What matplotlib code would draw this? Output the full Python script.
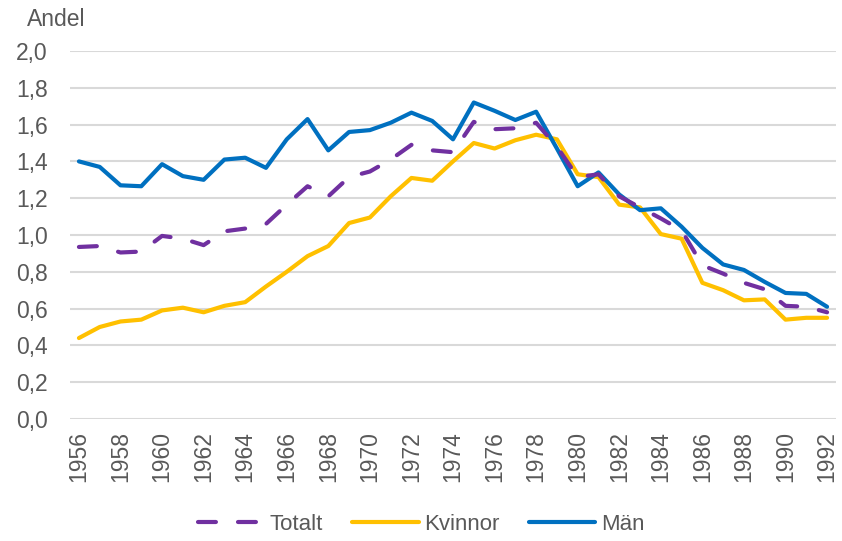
import matplotlib.pyplot as plt
from matplotlib.ticker import FuncFormatter

plt.rcParams["font.family"] = ["Liberation Sans", "DejaVu Sans"]

years = list(range(1956, 1993))

totalt = [0.935, 0.94, 0.905, 0.91, 0.995, 0.98, 0.945, 1.02, 1.035, 1.06,
          1.165, 1.265, 1.21, 1.315, 1.345, 1.41, 1.49, 1.46, 1.45, 1.615,
          1.575, 1.58, 1.61, 1.48, 1.315, 1.33, 1.21, 1.15, 1.09, 1.025,
          0.835, 0.79, 0.74, 0.705, 0.615, 0.61, 0.58]
kvinnor = [0.44, 0.50, 0.53, 0.54, 0.59, 0.605, 0.58, 0.615, 0.635, 0.72,
           0.80, 0.885, 0.94, 1.065, 1.095, 1.21, 1.31, 1.295, 1.40, 1.50,
           1.47, 1.515, 1.545, 1.52, 1.33, 1.315, 1.165, 1.15, 1.005, 0.98,
           0.74, 0.70, 0.645, 0.65, 0.54, 0.55, 0.55]
man = [1.40, 1.37, 1.27, 1.265, 1.385, 1.32, 1.30, 1.41, 1.42, 1.365,
       1.52, 1.63, 1.46, 1.56, 1.57, 1.61, 1.665, 1.62, 1.52, 1.72,
       1.675, 1.625, 1.67, 1.47, 1.265, 1.34, 1.22, 1.135, 1.145, 1.045,
       0.93, 0.84, 0.81, 0.745, 0.685, 0.68, 0.61]

grey = "#595959"

fig = plt.figure(figsize=(8.42, 5.41), dpi=100)
ax = fig.add_axes([70 / 842, 1 - 419 / 541, 766 / 842, 368 / 541])

ax.plot(years, totalt, color="#7030A0", lw=3, dashes=(4.3, 5.3),
        solid_capstyle="round", dash_capstyle="round", label="Totalt", zorder=3)
ax.plot(years, kvinnor, color="#FFC000", lw=3, solid_capstyle="round",
        label="Kvinnor", zorder=2)
ax.plot(years, man, color="#0070C0", lw=3, solid_capstyle="round",
        label="Män", zorder=2)

ax.set_xlim(1955.57, 1992.43)
ax.set_ylim(0, 2.0)
ax.set_yticks([i / 10 for i in range(0, 21, 2)])
ax.yaxis.set_major_formatter(FuncFormatter(lambda v, p: f"{v:.1f}".replace(".", ",")))
ax.set_xticks(years[::2])
ax.tick_params(axis="x", labelrotation=90, length=0, labelsize=16.5, colors=grey, pad=9)
ax.tick_params(axis="y", length=0, labelsize=16.5, colors=grey, pad=16)
ax.grid(axis="y", color="#d9d9d9", lw=1.5)
ax.set_axisbelow(True)
for s in ax.spines.values():
    s.set_visible(False)

fig.text(27 / 842, 1 - 20 / 541, "Andel", fontsize=16.5, color=grey, va="center")

leg = fig.legend(loc="center", bbox_to_anchor=(0.5, 1 - 524 / 541), ncol=3,
                 frameon=False, fontsize=16, handlelength=3.0, columnspacing=1.3,
                 handletextpad=0.25)
for t in leg.get_texts():
    t.set_color(grey)

fig.savefig("out.png", dpi=100)
